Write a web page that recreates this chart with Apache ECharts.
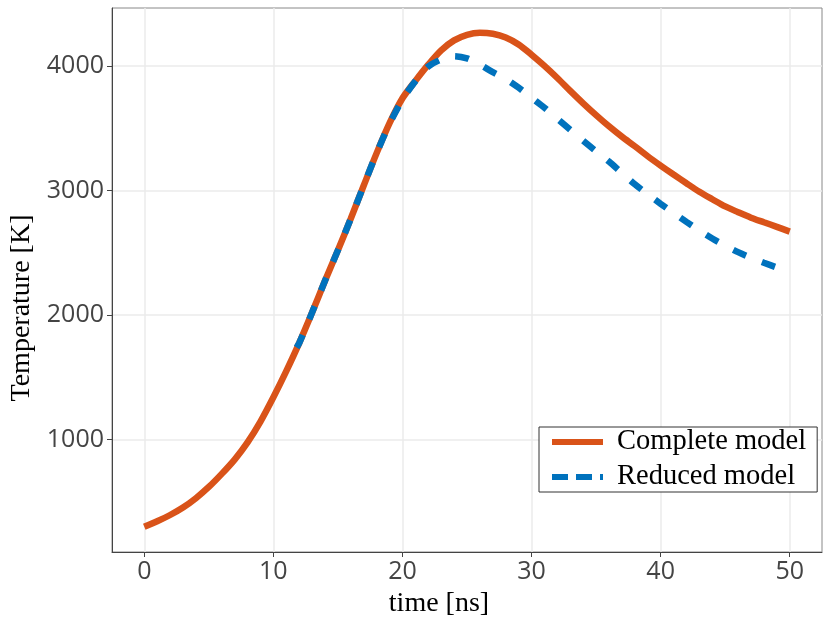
<!DOCTYPE html>
<html>
<head>
<meta charset="utf-8">
<script src="https://cdn.jsdelivr.net/npm/echarts@6/dist/echarts.min.js"></script>
<style>
  html, body { margin: 0; padding: 0; background: #fff; }
  #chart { width: 830px; height: 623px; }
</style>
</head>
<body>
<div id="chart"></div>
<script>
// 数据
var completeTime = [0, 1, 2, 3, 4, 5, 6, 7, 8, 9, 10, 11, 12, 13, 14, 15, 16, 17, 18, 19, 20, 21, 22, 23, 24, 25,
  26, 27, 28, 29, 30, 31, 32, 33, 34, 35, 36, 37, 38, 39, 40, 41, 42, 43, 44, 45, 46, 47, 48, 49, 50];
var completeTemp = [300, 345, 395, 455, 530, 620, 725, 840, 978, 1145, 1340, 1550, 1775, 2020, 2275, 2520, 2775, 3040, 3300, 3540, 3740, 3880, 4010, 4125, 4205, 4250,
  4266, 4258, 4228, 4172, 4090, 4000, 3903, 3800, 3700, 3605, 3515, 3432, 3355, 3275, 3200, 3128, 3058, 2990, 2930, 2872, 2826, 2782, 2745, 2708, 2670];
var reducedTime = [11.8, 12, 13, 14, 15, 16, 17, 18, 19, 20, 21, 22, 23, 24, 25,
  26, 27, 28, 29, 30, 31, 32, 33, 34, 35, 36, 37, 38, 39, 40, 41, 42, 43, 44, 45, 46, 47, 48, 49, 50];
var reducedTemp = [1740, 1775, 2020, 2275, 2520, 2775, 3040, 3300, 3535, 3730, 3878, 3995, 4052, 4078, 4060,
  4010, 3950, 3895, 3825, 3745, 3665, 3575, 3488, 3400, 3315, 3232, 3140, 3050, 2970, 2893, 2820, 2748, 2680, 2615, 2557, 2505, 2460, 2420, 2382, 2347];
var xTicks = [0, 10, 20, 30, 40, 50];
var yTicks = [1000, 2000, 3000, 4000];

function pairs(xs, ys) {
  var out = [];
  for (var i = 0; i < xs.length; i++) {
    out.push([xs[i], ys[i]]);
  }
  return out;
}

var tickFont = { fontFamily: 'Open Sans', fontSize: 25, color: '#444' };
var serif = 'Liberation Serif, Times New Roman, serif';

var myChart = echarts.init(document.getElementById('chart'));
myChart.setOption({
  animation: false,
  backgroundColor: '#fff',
  grid: {
    left: 112, right: 8, top: 8, bottom: 71,
    containLabel: false, outerBoundsMode: 'none',
    show: true, borderColor: '#888', borderWidth: 1
  },
  legend: {
    left: 539, top: 427,
    orient: 'vertical',
    backgroundColor: '#fff',
    borderColor: '#333', borderWidth: 1, borderRadius: 0,
    padding: [0, 11, 0, 13],
    itemGap: 5,
    itemWidth: 51, itemHeight: 30,
    textStyle: { fontFamily: serif, fontSize: 28.5, color: '#000', lineHeight: 30, padding: [0, 0, 0, 9] },
    data: [
      { name: 'Complete model', icon: 'path://M0,12L51,12L51,18L0,18Z', itemStyle: { color: '#D95319' } },
      { name: 'Reduced model', icon: 'path://M0,12L16,12L16,18L0,18ZM24,12L40,12L40,18L24,18ZM48,12L51,12L51,18L48,18Z', itemStyle: { color: '#0072BD' } }
    ]
  },
  xAxis: {
    type: 'value', min: -2.5, max: 52.5,
    name: 'time [ns]', nameLocation: 'middle', nameGap: 38,
    nameTextStyle: { fontFamily: serif, fontSize: 28, color: '#000', padding: [0, 56, 0, 0] },
    axisLine: { show: true, onZero: false, lineStyle: { color: '#444', width: 1 } },
    axisTick: { show: true, length: 5, lineStyle: { color: '#444' }, customValues: xTicks },
    axisLabel: Object.assign({ margin: 7, customValues: xTicks, formatter: function (v) { return String(v); } }, tickFont),
    splitLine: { show: true, lineStyle: { color: '#ebebeb', width: 1.5 } }
  },
  yAxis: {
    type: 'value', min: 98, max: 4465,
    name: 'Temperature [K]', nameLocation: 'middle', nameGap: 65,
    nameTextStyle: { fontFamily: serif, fontSize: 28, color: '#000', padding: [0, 56, 0, 0] },
    axisLine: { show: true, onZero: false, lineStyle: { color: '#444', width: 1 } },
    axisTick: { show: true, length: 5, lineStyle: { color: '#444' }, customValues: yTicks },
    axisLabel: Object.assign({ margin: 8, customValues: yTicks, formatter: function (v) { return String(v); } }, tickFont),
    splitLine: { show: true, lineStyle: { color: '#ebebeb', width: 1.5 } }
  },
  series: [
    {
      name: 'Complete model', type: 'line', data: pairs(completeTime, completeTemp),
      smooth: 0.3, showSymbol: false, symbol: 'none',
      lineStyle: { color: '#D95319', width: 6.5 },
      itemStyle: { color: '#D95319' }
    },
    {
      name: 'Reduced model', type: 'line', data: pairs(reducedTime, reducedTemp),
      smooth: 0.3, showSymbol: false, symbol: 'none', z: 3,
      lineStyle: { color: '#0072BD', width: 6.5, type: [14, 17], cap: 'butt' },
      itemStyle: { color: '#0072BD' }
    }
  ]
});
</script>
</body>
</html>
